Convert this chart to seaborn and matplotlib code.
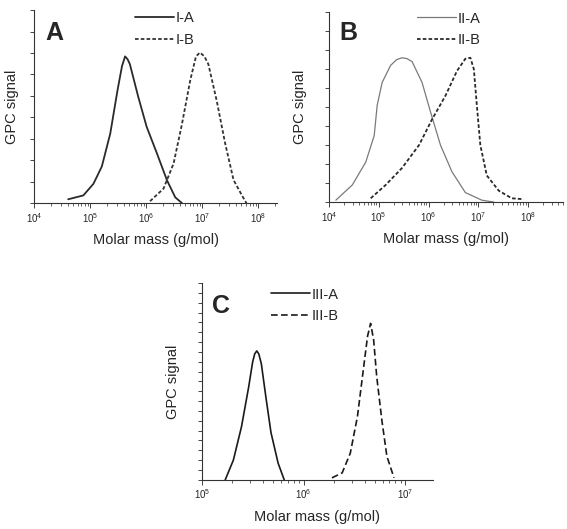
import numpy as np
import pandas as pd
import seaborn as sns
import matplotlib
matplotlib.use('Agg')
import matplotlib.pyplot as plt
from matplotlib.ticker import LogLocator, NullFormatter, MultipleLocator

###############################
######### data ################
###############################
# log10 of molar mass (g/mol) and GPC signal (fraction of axis height)
logM_IA = [4.61, 4.88, 5.06, 5.21, 5.36, 5.49, 5.57, 5.625, 5.67, 5.71, 5.86, 6.01, 6.19, 6.37, 6.52, 6.64]
sig_IA = [0.02, 0.04, 0.10, 0.19, 0.36, 0.585, 0.71, 0.76, 0.745, 0.72, 0.55, 0.395, 0.26, 0.12, 0.03, 0.0]
logM_IB = [6.07, 6.31, 6.49, 6.64, 6.79, 6.89, 6.96, 7.04, 7.11, 7.26, 7.41, 7.56, 7.71, 7.79]
sig_IB = [0.01, 0.075, 0.205, 0.41, 0.64, 0.76, 0.78, 0.76, 0.72, 0.53, 0.31, 0.12, 0.04, 0.0]

logM_IIA = [4.14, 4.47, 4.74, 4.91, 4.97, 5.07, 5.24, 5.36, 5.47, 5.57, 5.67, 5.87, 6.04, 6.24, 6.47, 6.74, 7.07, 7.31]
sig_IIA = [0.01, 0.09, 0.21, 0.35, 0.51, 0.63, 0.72, 0.75, 0.76, 0.755, 0.74, 0.63, 0.475, 0.30, 0.16, 0.05, 0.01, 0.0]
logM_IIB = [4.84, 5.14, 5.47, 5.81, 6.07, 6.34, 6.57, 6.74, 6.84, 6.91, 6.97, 7.04, 7.17, 7.41, 7.67, 7.91]
sig_IIB = [0.02, 0.09, 0.18, 0.30, 0.435, 0.56, 0.69, 0.755, 0.76, 0.70, 0.51, 0.30, 0.14, 0.06, 0.02, 0.015]

logM_IIIA = [5.23, 5.31, 5.39, 5.46, 5.50, 5.52, 5.54, 5.56, 5.585, 5.63, 5.68, 5.75, 5.81]
sig_IIIA = [0.0, 0.10, 0.27, 0.47, 0.60, 0.64, 0.655, 0.64, 0.59, 0.42, 0.24, 0.085, 0.0]
logM_IIIB = [6.28, 6.38, 6.46, 6.53, 6.58, 6.63, 6.66, 6.69, 6.72, 6.77, 6.82, 6.89]
sig_IIIB = [0.01, 0.035, 0.135, 0.32, 0.525, 0.73, 0.795, 0.71, 0.525, 0.305, 0.12, 0.01]

###############################
############ plot #############
###############################
sns.set_style('ticks')
plt.rcParams['font.family'] = ['Liberation Sans', 'DejaVu Sans']
plt.rcParams['mathtext.fontset'] = 'custom'
plt.rcParams['mathtext.rm'] = 'Liberation Sans'

fig = plt.figure(figsize=(5.67, 5.29), dpi=100)
axA = fig.add_axes([0.060, 0.616, 0.429, 0.365])
axB = fig.add_axes([0.580, 0.618, 0.413, 0.359])
axC = fig.add_axes([0.356, 0.093, 0.407, 0.372])


def draw(ax, logs, sigs, label, color, ls, lw):
    df = pd.DataFrame({'M': 10 ** np.array(logs), 'signal': sigs})
    sns.lineplot(data=df, x='M', y='signal', ax=ax, color=color, linestyle=ls,
                 linewidth=lw, label=label, sort=False)


draw(axA, logM_IA, sig_IA, 'I-A', '#2a2a2a', '-', 1.3)
draw(axA, logM_IB, sig_IB, 'I-B', '#333333', (0, (2, 1.2)), 1.3)
draw(axB, logM_IIA, sig_IIA, 'II-A', '#7a7a7a', '-', 0.9)
draw(axB, logM_IIB, sig_IIB, 'II-B', '#2a2a2a', (0, (2, 1.2)), 1.3)
draw(axC, logM_IIIA, sig_IIIA, 'III-A', '#1a1a1a', '-', 1.2)
draw(axC, logM_IIIB, sig_IIIB, 'III-B', '#1a1a1a', (0, (4, 2)), 1.2)

# axes, letter, xlim, legend x, legend y, y tick step, letter y, ylabel pad
setup = [
    (axA, 'A', (1e4, 10 ** 8.34), 0.415, 0.993, 1 / 9, 0.88, 4),
    (axB, 'B', (1e4, 10 ** 8.7), 0.376, 1.003, 0.1, 0.89, 9),
    (axC, 'C', (1e5, 10 ** 7.27), 0.30, 0.977, 0.05, 0.883, 9),
]
for ax, letter, xl, leg_x, leg_y, ystep, ly, ypad in setup:
    ax.set_xscale('log')
    ax.set_xlim(*xl)
    ax.set_ylim(0, 1)
    ax.xaxis.set_major_locator(LogLocator(base=10, numticks=10))
    ax.xaxis.set_minor_locator(LogLocator(base=10, subs=np.arange(2, 10), numticks=20))
    ax.xaxis.set_minor_formatter(NullFormatter())
    ax.yaxis.set_major_locator(MultipleLocator(ystep))
    ax.set_yticklabels([])
    ax.tick_params(axis='x', which='major', length=3.5, width=0.6, labelsize=7, pad=2)
    ax.tick_params(axis='x', which='minor', length=2, width=0.5)
    ax.tick_params(axis='y', which='major', length=3, width=0.6)
    for s in ['top', 'right']:
        ax.spines[s].set_visible(False)
    for s in ['left', 'bottom']:
        ax.spines[s].set_linewidth(0.8)
        ax.spines[s].set_color('#333333')
    ax.set_xlabel('Molar mass (g/mol)', fontsize=10.5, labelpad=6)
    ax.set_ylabel('GPC signal', fontsize=10.5, labelpad=ypad)
    ax.text(0.045, ly, letter, transform=ax.transAxes, fontsize=18,
            fontweight='bold', va='center', ha='left')
    ax.legend(loc='upper left', bbox_to_anchor=(leg_x, leg_y), frameon=False,
              handlelength=2.7, fontsize=10.5, labelspacing=0.5, handletextpad=0.1,
              borderaxespad=0, borderpad=0)

fig.savefig('out.png', dpi=100)
